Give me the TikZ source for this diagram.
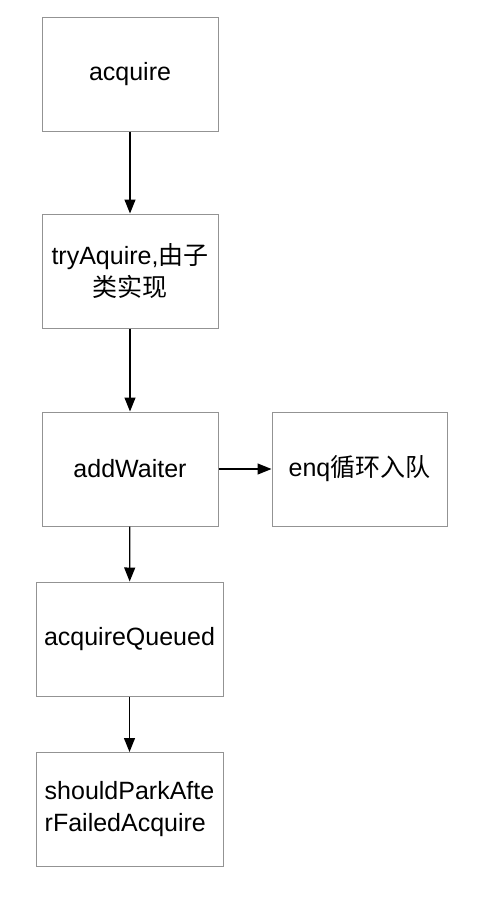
\documentclass[tikz,border=0pt]{standalone}
\usepackage{fontspec}
\setmainfont{Liberation Sans}
\newfontfamily\cjk{Noto Sans CJK SC}
\usetikzlibrary{arrows.meta}

\begin{document}
\begin{tikzpicture}[x=1pt, y=-1pt,
    box/.style={draw=gray!85, line width=1pt, fill=white, minimum width=176pt, minimum height=114pt,
        inner sep=0pt, align=center, font=\fontsize{25}{32}\selectfont},
    wide/.style={box, minimum width=187pt},
    flow/.style={-{Triangle[length=14pt, width=11pt]}, line width=1.2pt, black}]
    \useasboundingbox (0, 0) rectangle (492, 900);
    \node[box] (acquire) at (130, 74) {acquire};
    \node[box] (try) at (130, 271) {tryAquire,{\cjk 由子}\\{\cjk 类实现}};
    \node[box] (add) at (130, 469) {addWaiter};
    \node[box, minimum width=175pt] (enq) at (359.5, 469) {enq{\cjk 循环入队}};
    \node[wide] (queued) at (129.5, 639) {acquireQueued};
    \node[wide, align=left] (park) at (129.5, 809.5) {shouldParkAfte\\rFailedAcquire};
    \draw[flow] (acquire) -- (try);
    \draw[flow] (try) -- (add);
    \draw[flow] (add) -- (enq);
    \draw[flow] (add) -- (queued);
    \draw[flow] (queued) -- (park);
\end{tikzpicture}
\end{document}
